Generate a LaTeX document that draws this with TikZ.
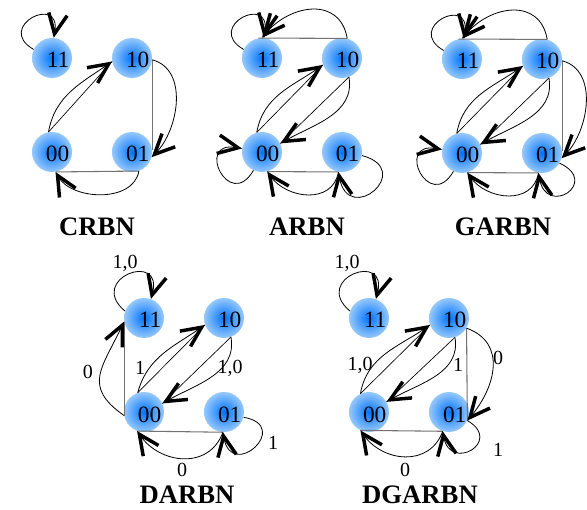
\documentclass[tikz,border=0pt]{standalone}
\usepackage{fontspec}
\setmainfont{Liberation Serif}
\usepackage{tikz}
\usetikzlibrary{arrows.meta,shapes}
\definecolor{bluecore}{RGB}{0,115,255}
\definecolor{blueedge}{RGB}{150,200,250}
\tikzstyle{bit} = [circle, minimum size=30pt, inner sep=0pt, inner color=bluecore, outer color=blueedge, text width=26pt, align=right, text height=15pt, text depth=0pt, font=\fontsize{17.5}{17.5}\selectfont]
\tikzstyle{wire} = [-, draw=black!55, line width=0.8pt]
\tikzstyle{diag} = [-, draw=black, line width=0.5pt]
\tikzstyle{flow} = [->, draw=black, line width=0.6pt]
\tikzstyle{title} = [font=\fontsize{20}{20}\selectfont\bfseries]
\tikzstyle{tag} = [inner sep=0pt, font=\fontsize{15}{15}\selectfont]

\begin{document}
\begin{tikzpicture}[->,>={Straight Barb[length=15pt,width=14pt,line width=2.6pt]},node distance=60pt,x=0.75pt,y=-0.75pt]

\useasboundingbox (0,0) rectangle (587,510);

% CRBN
\node[bit] (11c) at (52,58) {11};
\node[bit] (10c) [right of = 11c] {10};
\node[bit] (00c) [below of = 11c, node distance=70.5pt] {00};
\node[bit] (01c) [right of = 00c] {01};
\node[title] (tc) at (97,227) {CRBN};

% ARBN
\node[bit] (11a) at (262,58) {11};
\node[bit] (10a) [right of = 11a] {10};
\node[bit] (00a) [below of = 11a, node distance=70.5pt] {00};
\node[bit] (01a) [right of = 00a] {01};
\node[title] (ta) at (307,227) {ARBN};

% GARBN
\node[bit] (11g) at (462,59) {11};
\node[bit] (10g) [right of = 11g] {10};
\node[bit] (00g) [below of = 11g, node distance=70.5pt] {00};
\node[bit] (01g) [right of = 00g] {01};
\node[title] (tg) at (503,227) {GARBN};

% DARBN
\node[bit] (11d) at (144,318) {11};
\node[bit] (10d) [right of = 11d] {10};
\node[bit] (00d) [below of = 11d, node distance=70.5pt] {00};
\node[bit] (01d) [right of = 00d] {01};
\node[title] (td) at (187,495) {DARBN};

% DGARBN
\node[bit] (11e) at (369,318) {11};
\node[bit] (10e) [right of = 11e] {10};
\node[bit] (00e) [below of = 11e, node distance=70.5pt] {00};
\node[bit] (01e) [right of = 00e] {01};
\node[title] (te) at (420,495) {DGARBN};

\node[tag] (l11d) at (125,263) {1,0};
\node[tag] (l0d) at (88,372) {0};
\node[tag] (l1d) at (140,368) {1};
\node[tag] (l10d) at (230,368) {1,0};
\node[tag] (lbd) at (182,470) {0};
\node[tag] (lod) at (273,443) {1};

\node[tag] (l11e) at (347,263) {1,0};
\node[tag] (l10e) at (360,365) {1,0};
\node[tag] (lwe) at (458,365) {1};
\node[tag] (lce) at (498,358) {0};
\node[tag] (lbe) at (405,470) {0};
\node[tag] (loe) at (498,450) {1};

  \path
    (11c.155) edge [flow, out=150, in=80, looseness=5] (11c.85)
    (00c.100) edge [diag] (10c.190)
    (00c.100) edge [flow, out=80, in=215] (10c.190)
    (10c.-5) edge [wire] (01c.5)
    (10c.-5) edge [flow, out=-15, in=45] (01c.-15)
    (01c.-70) edge [wire] (00c.-80)
    (01c.-70) edge [flow, out=-100, in=-60] (00c.-80)

    (11a.155) edge [flow, out=150, in=80, looseness=5] (11a.85)
    (10a.75) edge [wire] (11a.100)
    (10a.75) edge [flow, out=100, in=50, looseness=1.3] (11a.90)
    (00a.105) edge [diag] (10a.200)
    (00a.105) edge [flow, out=80, in=215] (10a.200)
    (10a.-70) edge [diag] (00a.25)
    (10a.-70) edge [flow, out=-80, in=30] (00a.25)
    (00a.245) edge [flow, out=240, in=170, looseness=5] (00a.170)
    (01a.-100) edge [wire] (00a.-75)
    (01a.-100) edge [flow, out=-100, in=-55, looseness=1.2] (00a.-75)
    (01a.-10) edge [flow, out=-15, in=-80, looseness=5] (01a.-100)

    (11g.155) edge [flow, out=150, in=80, looseness=5] (11g.85)
    (10g.75) edge [wire] (11g.100)
    (10g.75) edge [flow, out=100, in=50, looseness=1.3] (11g.90)
    (00g.105) edge [diag] (10g.200)
    (00g.105) edge [flow, out=80, in=215] (10g.200)
    (10g.-70) edge [diag] (00g.25)
    (10g.-70) edge [flow, out=-80, in=30] (00g.25)
    (10g.-5) edge [wire] (01g.5)
    (10g.-5) edge [flow, out=-15, in=45] (01g.-15)
    (00g.245) edge [flow, out=240, in=170, looseness=5] (00g.170)
    (01g.-100) edge [wire] (00g.-75)
    (01g.-100) edge [flow, out=-100, in=-55, looseness=1.2] (00g.-75)
    (01g.-30) edge [flow, out=-25, in=-80, looseness=5] (01g.-100)

    (11d.160) edge [flow, out=140, in=75, looseness=4.5] (11d.70)
    (00d.190) edge [wire] (11d.190)
    (00d.190) edge [flow, out=145, in=-115, looseness=1.4] (11d.190)
    (00d.108) edge [diag] (10d.200)
    (00d.108) edge [flow, out=75, in=215] (10d.200)
    (10d.-70) edge [diag] (00d.25)
    (10d.-70) edge [flow, out=-80, in=30] (00d.25)
    (01d.-93) edge [wire] (00d.-110)
    (01d.-93) edge [flow, out=-110, in=-55, looseness=1.2] (00d.-110)
    (01d.-15) edge [flow, out=-10, in=-80, looseness=5] (01d.-93)

    (11e.160) edge [flow, out=140, in=75, looseness=4.5] (11e.70)
    (00e.115) edge [diag] (10e.200)
    (00e.115) edge [flow, out=80, in=215] (10e.200)
    (10e.-73) edge [diag] (00e.30)
    (10e.-73) edge [flow, out=-80, in=30] (00e.30)
    (10e.-30) edge [wire] (01e.-25)
    (10e.-30) edge [flow, out=-20, in=50, looseness=1.2] (01e.-25)
    (01e.-108) edge [wire] (00e.-115)
    (01e.-108) edge [flow, out=-110, in=-55, looseness=1.2] (00e.-115)
    (01e.-25) edge [flow, out=-30, in=-80, looseness=4] (01e.-108);

\end{tikzpicture}
\end{document}
